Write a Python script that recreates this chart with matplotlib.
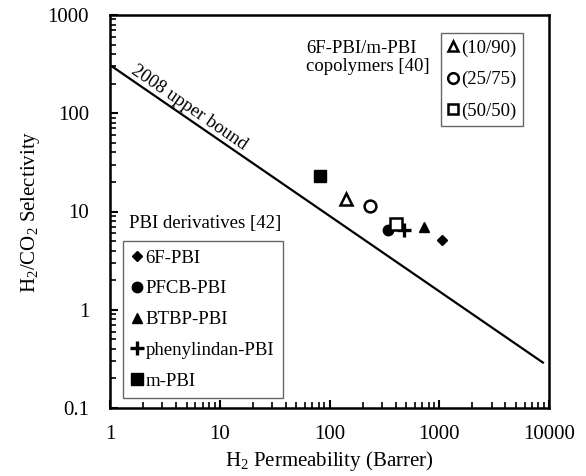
import numpy as np
import matplotlib
matplotlib.use('Agg')
import matplotlib.pyplot as plt
from matplotlib.ticker import LogLocator, FixedLocator, NullFormatter

plt.rcParams['font.family'] = ['Liberation Serif', 'DejaVu Serif']
plt.rcParams['mathtext.fontset'] = 'custom'
plt.rcParams['mathtext.rm'] = 'Liberation Serif'
plt.rcParams['mathtext.it'] = 'Liberation Serif:italic'

# H2 permeability (Barrer) and H2/CO2 selectivity
pbi_names = ['6F-PBI', 'PFCB-PBI', 'BTBP-PBI', 'phenylindan-PBI', 'm-PBI']
pbi_perm = [1050, 340, 720, 480, 82]
pbi_sel = [5.1, 6.5, 6.9, 6.5, 23]

copo_names = ['(10/90)', '(25/75)', '(50/50)']
copo_perm = [140, 235, 400]
copo_sel = [13.5, 11.5, 7.4]

# 2008 upper bound end points
bound_perm = [1.06, 8800]
bound_sel = [296, 0.29]

fig = plt.figure(figsize=(5.86, 4.76), dpi=100)
ax = fig.add_axes([110/586, 1-408/476, (549-110)/586, (408-15)/476])

ax.plot(bound_perm, bound_sel, color='black', lw=1.6, zorder=2)

pbi_style = [dict(marker='D', ms=5), dict(marker='o', ms=7.5), dict(marker='^', ms=7.5),
             dict(marker='+', ms=10, mew=2.4), dict(marker='s', ms=8.5)]
pbi_handles = []
for name, p, s, st in zip(pbi_names, pbi_perm, pbi_sel, pbi_style):
    h, = ax.plot([p], [s], ls='none', color='black', label=name, **st)
    pbi_handles.append(h)

copo_style = ['^', 'o', 's']
copo_handles = []
for name, p, s, m in zip(copo_names, copo_perm, copo_sel, copo_style):
    h, = ax.plot([p], [s], ls='none', marker=m, ms=8.5, mfc='white', mec='black',
                 mew=1.8, label=name)
    copo_handles.append(h)

ax.set_xscale('log')
ax.set_yscale('log')
ax.set_xlim(1, 10000)
ax.set_ylim(0.1, 1000)

ax.xaxis.set_major_locator(FixedLocator([1, 10, 100, 1000, 10000]))
ax.yaxis.set_major_locator(FixedLocator([0.1, 1, 10, 100, 1000]))
ax.xaxis.set_minor_locator(LogLocator(base=10, subs=np.arange(2, 10)))
ax.yaxis.set_minor_locator(LogLocator(base=10, subs=np.arange(2, 10)))
ax.xaxis.set_minor_formatter(NullFormatter())
ax.yaxis.set_minor_formatter(NullFormatter())
ax.set_xticklabels(['1', '10', '100', '1000', '10000'])
ax.set_yticklabels(['0.1', '1', '10', '100', '1000'])

ax.tick_params(which='major', direction='in', length=6, width=1.5, labelsize=15, pad=12)
ax.tick_params(axis='y', which='major', pad=15)
ax.tick_params(which='minor', direction='in', length=4, width=1.2)
for sp in ax.spines.values():
    sp.set_linewidth(1.8)

ax.set_xlabel('H$_2$ Permeability (Barrer)', fontsize=15, labelpad=4)
ax.set_ylabel('H$_2$/CO$_2$ Selectivity', fontsize=15, labelpad=4)

ax.text(1.45, 241, '2008 upper bound', fontsize=13.5, rotation=-34.5,
        rotation_mode='anchor', ha='left', va='bottom')

ax.text(306/586, 1-75/476, '6F-PBI/m-PBI\ncopolymers [40]', transform=fig.transFigure,
        fontsize=13.5, ha='left', va='bottom', linespacing=1.1)
ax.text(129/586, 1-232/476, 'PBI derivatives [42]', transform=fig.transFigure,
        fontsize=13.5, ha='left', va='bottom')

leg1 = ax.legend(handles=copo_handles, loc='upper left',
                 bbox_to_anchor=(441/586, 1-33/476), bbox_transform=fig.transFigure,
                 fontsize=13.5, frameon=True, fancybox=False, edgecolor='#404040',
                 handlelength=0.6, handletextpad=0.15, borderpad=0.35, labelspacing=0.75,
                 borderaxespad=0, markerscale=0.9)
leg1.get_frame().set_linewidth(1.0)
ax.add_artist(leg1)

leg2 = ax.legend(handles=pbi_handles, loc='upper left',
                 bbox_to_anchor=(123/586, 1-241/476), bbox_transform=fig.transFigure,
                 fontsize=13.5, frameon=True, fancybox=False, edgecolor='#404040',
                 handlelength=0.6, handletextpad=0.15, borderpad=0.45, labelspacing=0.73,
                 borderaxespad=0)
leg2.get_frame().set_linewidth(1.0)

fig.savefig('out.png', dpi=100)
